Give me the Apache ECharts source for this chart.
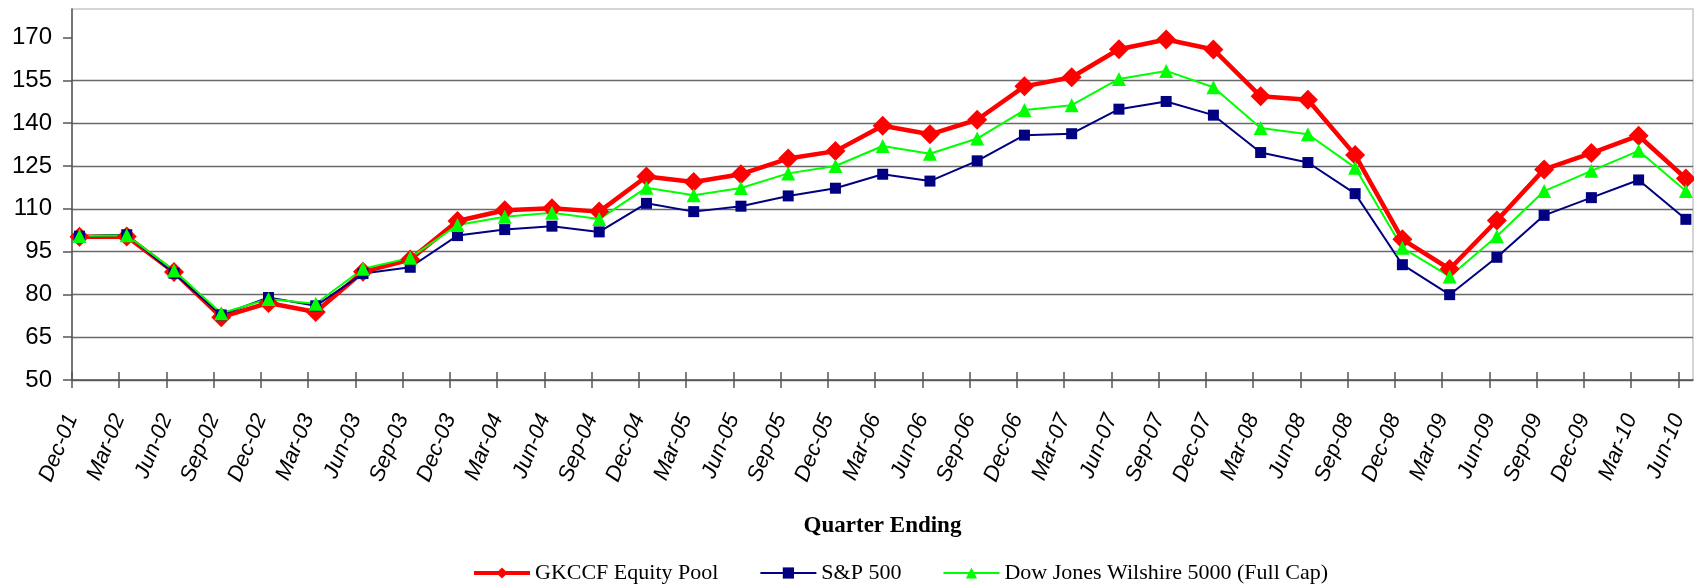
<!DOCTYPE html>
<html><head><meta charset="utf-8">
<script src="https://cdn.jsdelivr.net/npm/echarts@6/dist/echarts.min.js"></script>
<style>html,body{margin:0;padding:0;background:#fff}#c{width:1694px;height:587px}</style>
</head><body><div id="c"></div>
<script>
const categories = ['Dec-01','Mar-02','Jun-02','Sep-02','Dec-02','Mar-03','Jun-03','Sep-03','Dec-03','Mar-04','Jun-04','Sep-04','Dec-04','Mar-05','Jun-05','Sep-05','Dec-05','Mar-06','Jun-06','Sep-06','Dec-06','Mar-07','Jun-07','Sep-07','Dec-07','Mar-08','Jun-08','Sep-08','Dec-08','Mar-09','Jun-09','Sep-09','Dec-09','Mar-10','Jun-10'];
const gkccf = [100.2,100.3,87.8,72.0,77.0,73.8,87.9,92.2,105.7,109.5,110.2,109.0,121.3,119.4,122.1,127.6,130.2,139.1,136.1,141.2,152.9,156.1,165.9,169.3,165.8,149.4,148.2,128.8,99.3,88.9,105.9,123.8,129.5,135.6,120.6];
const sp500 = [100.4,100.9,87.4,72.8,78.9,76.0,87.3,89.5,100.6,102.7,103.9,101.9,111.9,109.0,110.9,114.5,117.2,122.1,119.7,126.8,135.8,136.3,144.9,147.6,142.8,129.7,126.2,115.3,90.4,79.9,93.0,107.7,113.9,120.1,106.3];
const wilshire = [100.5,100.7,88.4,73.4,78.4,76.7,89.0,92.8,104.3,107.2,108.6,106.4,117.4,114.7,117.3,122.4,125.0,132.0,129.3,134.6,144.6,146.3,155.5,158.3,152.6,138.3,136.1,124.4,96.3,86.3,100.4,116.2,123.3,130.3,116.2];
const yTicks = [50,65,80,95,110,125,140,155,170];
const seriesNames = ['GKCCF Equity Pool','S&P 500','Dow Jones Wilshire 5000 (Full Cap)'];

const tickIdx = categories.map((c,i)=>i);
const AX_MAX = 34.31;      // plot width in tick spacings
const PT_OFF = 0.159;      // points sit a little right of ticks
const axisColor = '#555';
const serif = 'Liberation Serif, Times New Roman, serif';
const sans = 'Liberation Sans, Arial, sans-serif';

const chart = echarts.init(document.getElementById('c'), null, {renderer:'canvas'});
const pts = arr => arr.map((v,i)=>[i, v]);

chart.setOption({
  animation: false,
  backgroundColor: '#fff',
  grid: {left: 72, right: 1, top: 9, bottom: 207, show: true, borderColor: '#c8c8c8', borderWidth: 1.5, outerBoundsMode: 'none', containLabel: false},
  legend: {
    data: [
      {name: seriesNames[0], lineStyle: {width: 4, color: '#ff0000'}},
      {name: seriesNames[1], lineStyle: {width: 2, color: '#000080'}},
      {name: seriesNames[2], lineStyle: {width: 2, color: '#00ff00'}}
    ],
    left: 467, top: 557, itemWidth: 56, itemHeight: 14, itemGap: 41,
    textStyle: {fontFamily: serif, fontSize: 22, color: '#000'}
  },
  xAxis: [
    {type:'value', min:0, max:AX_MAX, position:'bottom',
     name:'Quarter Ending', nameLocation:'middle', nameGap:135, nameMoveOverlap:false,
     nameTextStyle:{fontFamily:serif, fontWeight:'bold', fontSize:23, color:'#000'},
     axisLine:{show:true, onZero:false, lineStyle:{color:axisColor, width:1.5}},
     axisTick:{show:true, customValues: tickIdx, length:8, lineStyle:{color:axisColor, width:1.5}},
     axisLabel:{show:true, customValues: tickIdx, rotate:68, margin:35,
       formatter: v => categories[Math.round(v)] || '',
       fontFamily:sans, fontStyle:'italic', fontSize:22, color:'#000'},
     splitLine:{show:false}},
    {type:'value', min:0, max:AX_MAX, position:'bottom',
     axisLine:{show:false, onZero:false},
     axisTick:{show:true, inside:true, customValues: tickIdx, length:8, lineStyle:{color:axisColor, width:1.5}},
     axisLabel:{show:false}, splitLine:{show:false}},
    {type:'value', min:-PT_OFF, max:AX_MAX-PT_OFF, position:'bottom', show:false,
     axisLine:{show:false, onZero:false}, axisTick:{show:false}, splitLine:{show:false}, axisLabel:{show:false}}
  ],
  yAxis: [{
    type:'value', min:50, max:180, interval:15,
    axisLine:{show:true, lineStyle:{color:axisColor, width:1.5}},
    axisTick:{show:true, customValues: yTicks, length:9, lineStyle:{color:axisColor, width:1.5}},
    axisLabel:{customValues: yTicks, margin:20, fontFamily:sans, fontSize:24, color:'#000'},
    splitLine:{show:true, showMaxLine:false, lineStyle:{color:'#6a6a6a', width:1.3}}
  }],
  series: [
    {name:seriesNames[0], type:'line', xAxisIndex:2, data:pts(gkccf), symbol:'diamond', symbolSize:20, clip:false,
     lineStyle:{color:'#ff0000', width:4.5}, itemStyle:{color:'#ff0000'}, showAllSymbol:true},
    {name:seriesNames[1], type:'line', xAxisIndex:2, data:pts(sp500), symbol:'rect', symbolSize:11, clip:false,
     lineStyle:{color:'#000080', width:2}, itemStyle:{color:'#000080'}, showAllSymbol:true},
    {name:seriesNames[2], type:'line', xAxisIndex:2, data:pts(wilshire), symbol:'triangle', symbolSize:14, clip:false,
     lineStyle:{color:'#00ff00', width:2}, itemStyle:{color:'#00ff00'}, showAllSymbol:true}
  ]
});
</script></body></html>
